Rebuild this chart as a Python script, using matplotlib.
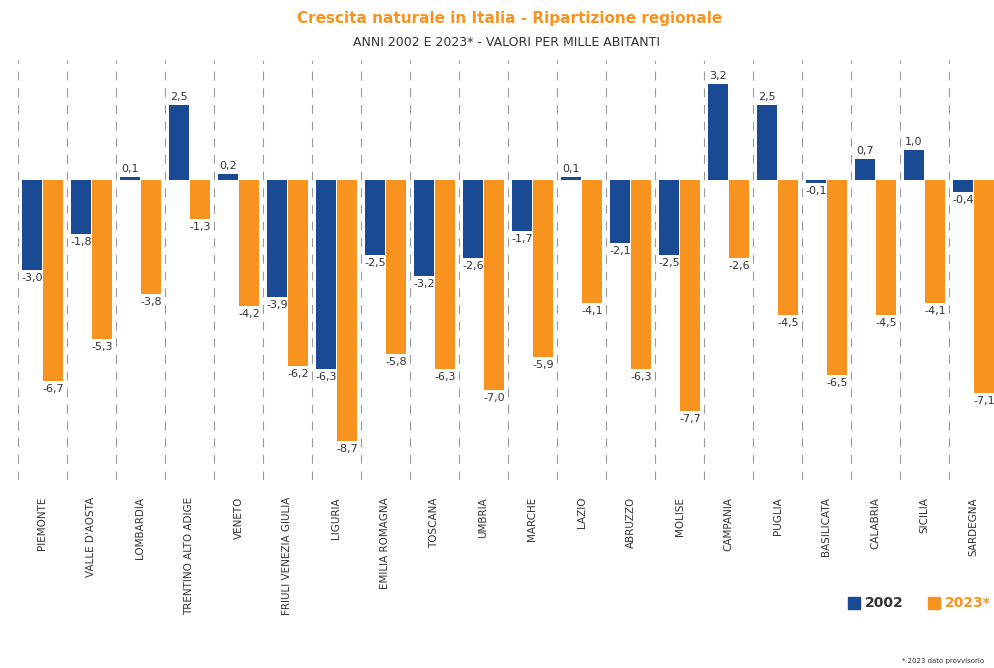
import numpy as np
import matplotlib.pyplot as plt
from matplotlib.patches import Rectangle

plt.rcParams['font.family'] = ['Liberation Sans Narrow', 'DejaVu Sans']

regioni = ['PIEMONTE', "VALLE D'AOSTA", 'LOMBARDIA', 'TRENTINO ALTO ADIGE', 'VENETO',
           'FRIULI VENEZIA GIULIA', 'LIGURIA', 'EMILIA ROMAGNA', 'TOSCANA', 'UMBRIA',
           'MARCHE', 'LAZIO', 'ABRUZZO', 'MOLISE', 'CAMPANIA', 'PUGLIA', 'BASILICATA',
           'CALABRIA', 'SICILIA', 'SARDEGNA']
val_2002 = [-3.0, -1.8, 0.1, 2.5, 0.2, -3.9, -6.3, -2.5, -3.2, -2.6,
            -1.7, 0.1, -2.1, -2.5, 3.2, 2.5, -0.1, 0.7, 1.0, -0.4]
val_2023 = [-6.7, -5.3, -3.8, -1.3, -4.2, -6.2, -8.7, -5.8, -6.3, -7.0,
            -5.9, -4.1, -6.3, -7.7, -2.6, -4.5, -6.5, -4.5, -4.1, -7.1]

blu = '#1a4a93'
arancio = '#f7931e'
grigio = '#333333'

fig = plt.figure(figsize=(9.94, 6.68), dpi=100)
ax = fig.add_axes([18 / 994, 1 - 480 / 668, 976 / 994, 420 / 668])

x = np.arange(len(regioni))
w = 0.42
ax.bar(x - 0.215, val_2002, width=w, color=blu, zorder=3)
ax.bar(x + 0.215, val_2023, width=w, color=arancio, zorder=3)

# separatori tratteggiati tra le regioni
for i in range(len(regioni)):
    ax.axvline(i - 0.5, color='#9a9a9a', lw=0.8, ls=(0, (8, 7)), zorder=1)

def etichetta(xp, v):
    testo = f'{v:.1f}'.replace('.', ',')
    if v >= 0:
        ax.text(xp, v + 0.1, testo, ha='center', va='bottom', fontsize=8,
                color=grigio, zorder=4)
    else:
        ax.text(xp, v - 0.1, testo, ha='center', va='top', fontsize=8,
                color=grigio, zorder=4)

for i in range(len(regioni)):
    etichetta(x[i] - 0.215, val_2002[i])
    etichetta(x[i] + 0.215, val_2023[i])

ax.set_xlim(-0.5, 19.42)
ax.set_ylim(-10, 4)
ax.set_xticks([])
ax.set_yticks([])
for s in ax.spines.values():
    s.set_visible(False)

# nomi delle regioni, ruotati sotto il grafico
for i, nome in enumerate(regioni):
    xf = (18 + 49 * i + 24.5) / 994
    fig.text(xf, 1 - 497 / 668, nome, rotation=90, ha='center', va='top',
             fontsize=7.5, color=grigio)

fig.text(0.513, 1 - 18 / 668, 'Crescita naturale in Italia - Ripartizione regionale',
         ha='center', va='center', fontsize=11, fontweight='bold', color=arancio)
fig.text(0.51, 1 - 42 / 668, 'ANNI 2002 E 2023* - VALORI PER MILLE ABITANTI',
         ha='center', va='center', fontsize=9, color=grigio)

# legenda
yl = 1 - 603 / 668
fig.patches.append(Rectangle((848 / 994, yl - 6 / 668), 12 / 994, 12 / 668,
                             transform=fig.transFigure, color=blu))
fig.text(865 / 994, yl, '2002', ha='left', va='center', fontsize=10,
         fontweight='bold', color=grigio)
fig.patches.append(Rectangle((928 / 994, yl - 6 / 668), 12 / 994, 12 / 668,
                             transform=fig.transFigure, color=arancio))
fig.text(945 / 994, yl, '2023*', ha='left', va='center', fontsize=10,
         fontweight='bold', color=arancio)

fig.text(902 / 994, 1 - 661 / 668, '* 2023 dato provvisorio', ha='left', va='center',
         fontsize=5, color=grigio)

fig.savefig('out.png', dpi=100)
